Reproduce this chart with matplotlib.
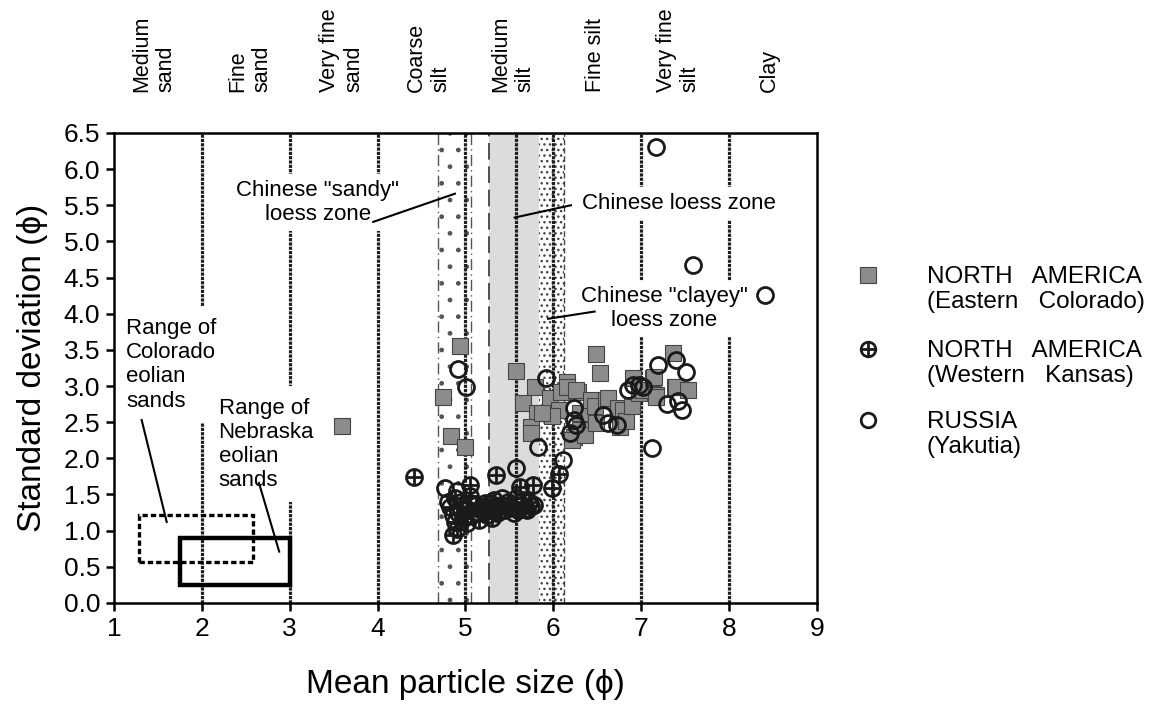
import matplotlib
matplotlib.use("Agg")
import matplotlib.pyplot as plt
from matplotlib.lines import Line2D
from matplotlib.patches import Rectangle
from matplotlib.ticker import FormatStrFormatter, MultipleLocator

plt.rcParams["font.family"] = ["Liberation Sans", "DejaVu Sans"]
plt.rcParams["hatch.linewidth"] = 1.0

# grain-size classes written above the plot (phi)
class_names = ["Medium\nsand", "Fine\nsand", "Very fine\nsand", "Coarse\nsilt",
               "Medium\nsilt", "Fine silt", "Very fine\nsilt", "Clay"]
class_pos = [1.45, 2.55, 3.59, 4.58, 5.54, 6.48, 7.42, 8.46]
class_bounds = [2, 3, 4, 5, 5.58, 6, 7, 8]

# Chinese loess zones (phi ranges)
sandy_zone = (4.69, 5.06)
loess_zone = (5.27, 5.835)
clayey_zone = (5.835, 6.12)

# eolian sand ranges: x0, x1, y0, y1
colorado_range = (1.28, 2.58, 0.56, 1.22)
nebraska_range = (1.75, 3.00, 0.25, 0.90)

# North America, Eastern Colorado
co_x = [3.60, 4.94, 4.75, 4.83, 4.99, 5.57, 5.79, 5.66, 5.81, 5.75, 5.75, 5.96,
        6.07, 6.15, 6.09, 6.16, 6.28, 6.26, 6.30, 6.24, 6.21, 6.36, 6.30, 5.98,
        5.87, 6.43, 6.47, 6.49, 6.53, 6.49, 6.60, 6.62, 6.74, 6.76, 6.79, 6.83,
        6.89, 6.91, 6.98, 7.02, 7.13, 7.17, 7.14, 7.36, 7.38, 7.40, 7.53, 7.17]
co_y = [2.45, 3.55, 2.85, 2.31, 2.16, 3.21, 2.99, 2.76, 2.62, 2.44, 2.35, 2.83,
        2.67, 3.06, 2.92, 2.98, 2.92, 2.95, 2.39, 2.30, 2.25, 2.32, 2.62, 2.58,
        2.62, 2.81, 2.72, 2.49, 3.18, 3.44, 2.81, 2.83, 2.69, 2.44, 2.67, 2.51,
        2.72, 3.11, 2.90, 2.95, 3.11, 2.88, 3.13, 3.45, 2.99, 2.99, 2.95, 2.85]

# North America, Western Kansas
ks_x = [4.42, 5.35, 5.05, 5.77, 5.98, 6.06, 5.62, 4.86, 4.88,
        4.82, 4.88, 4.92, 4.95, 4.98, 5.02, 5.05, 5.08, 5.12, 5.15, 5.18, 5.22,
        5.25, 5.30, 5.33, 5.36, 5.40, 5.45, 5.48, 5.52, 5.58, 5.60, 5.64, 5.68,
        5.72, 5.75, 5.30, 5.02, 4.90]
ks_y = [1.74, 1.77, 1.63, 1.63, 1.59, 1.79, 1.61, 0.94, 1.12,
        1.33, 1.45, 1.25, 1.40, 1.18, 1.30, 1.48, 1.22, 1.35, 1.15, 1.28, 1.38,
        1.22, 1.30, 1.42, 1.25, 1.35, 1.28, 1.40, 1.32, 1.45, 1.28, 1.36, 1.30,
        1.40, 1.34, 1.18, 1.10, 1.02]

# Russia, Yakutia
ru_x = [7.17, 7.59, 8.41, 7.12, 7.19, 7.40, 7.51, 7.29, 7.42, 7.46, 6.98, 5.92,
        6.91, 7.02, 6.85, 6.23, 6.24, 6.26, 6.19, 6.57, 6.62, 6.72, 6.11, 5.82,
        4.92, 5.01, 5.57, 4.77,
        4.86, 4.95, 5.05, 5.12, 5.20, 5.28, 5.35, 5.42, 5.50, 5.55, 5.65, 5.70,
        5.78, 4.80, 4.90]
ru_y = [6.31, 4.67, 4.26, 2.14, 3.29, 3.36, 3.20, 2.75, 2.79, 2.67, 3.02, 3.11,
        3.02, 2.99, 2.95, 2.69, 2.53, 2.46, 2.35, 2.60, 2.49, 2.46, 1.98, 2.16,
        3.24, 2.99, 1.86, 1.59,
        1.22, 1.30, 1.38, 1.25, 1.32, 1.38, 1.30, 1.45, 1.36, 1.25, 1.42, 1.28,
        1.35, 1.40, 1.55]

series_labels = ["NORTH   AMERICA\n(Eastern   Colorado)",
                 "NORTH   AMERICA\n(Western   Kansas)",
                 "RUSSIA\n(Yakutia)"]

ink = "#1a1a1a"
square_style = dict(ls="none", marker="s", ms=12, mfc="#8c8c8c", mec="#444444", mew=0.8)
circle_style = dict(ls="none", marker="o", ms=11.5, mfc="none", mec=ink, mew=2.0)
cross_style = dict(ls="none", marker="+", ms=11.5, mec=ink, mew=2.0)

fig, ax = plt.subplots(figsize=(11.56, 7.11), dpi=100)
fig.subplots_adjust(left=0.0986, right=0.7067, bottom=0.152, top=0.813)
ax.set_xlim(1, 9)
ax.set_ylim(0, 6.5)

# loess zones
ax.axvspan(*sandy_zone, facecolor="white", edgecolor="#555555", hatch=".", lw=0, zorder=1)
ax.axvspan(*loess_zone, facecolor="#dcdcdc", lw=0, zorder=1)
ax.axvspan(*clayey_zone, facecolor="white", edgecolor="#444444", hatch="...", lw=0, zorder=1)
for xz in sandy_zone:
    ax.axvline(xz, color="#555555", lw=1.0, ls=(0, (8, 3, 1, 3)), zorder=2)
ax.axvline(loess_zone[0], color="#333333", lw=1.2, ls=(0, (10, 4)), zorder=2)
ax.axvline(clayey_zone[1], color="#444444", lw=1.0, ls=(0, (4, 2)), zorder=2)

# class boundaries
for xb in class_bounds:
    ax.axvline(xb, color="#1f1f1f", lw=2.3, ls=(0, (1, 0.35)), zorder=2)

# eolian sand ranges
x0, x1, y0, y1 = colorado_range
ax.add_patch(Rectangle((x0, y0), x1 - x0, y1 - y0, fill=False, ec="black",
                       lw=2.4, ls=(0, (1.6, 0.9)), zorder=3))
x0, x1, y0, y1 = nebraska_range
ax.add_patch(Rectangle((x0, y0), x1 - x0, y1 - y0, fill=False, ec="black",
                       lw=3.2, zorder=3))

# annotations with leaders
notes = [
    ('Chinese "sandy"\nloess zone', 3.32, 5.85, "center", [(3.95, 5.27), (4.88, 5.66)]),
    ("Chinese loess zone", 6.33, 5.67, "left", [(6.20, 5.50), (5.56, 5.33)]),
    ('Chinese "clayey"\nloess zone', 7.26, 4.38, "center", [(6.47, 4.03), (5.94, 3.93)]),
    ("Range of\nColorado\neolian\nsands", 1.137, 3.94, "left", [(1.315, 2.53), (1.60, 1.12)]),
    ("Range of\nNebraska\neolian\nsands", 2.19, 2.84, "left", [(2.65, 1.66), (2.88, 0.71)]),
]
for text, tx, ty, ha, leader in notes:
    pad = 8 if text.startswith("Range") else 4
    ax.text(tx, ty, text, ha=ha, va="top", multialignment=ha, fontsize=16,
            zorder=5, bbox=dict(facecolor="white", edgecolor="none", pad=pad))
    (lx0, ly0), (lx1, ly1) = leader
    ax.plot([lx0, lx1], [ly0, ly1], color="black", lw=1.5, zorder=6)

# data
ax.plot(co_x, co_y, zorder=7, **square_style)
ax.plot(ks_x, ks_y, zorder=8, **circle_style)
ax.plot(ks_x, ks_y, zorder=8, **cross_style)
ax.plot(ru_x, ru_y, zorder=9, **circle_style)

# grain-size classes above the axes
for name, xp in zip(class_names, class_pos):
    ax.text(xp, 1.087, name, transform=ax.get_xaxis_transform(), rotation=90,
            ha="center", va="bottom", multialignment="left", fontsize=15.5)

# legend drawn beside the plot
legend_y = [0.698, 0.540, 0.389]
legend_styles = [[square_style], [circle_style, cross_style], [circle_style]]
for ly, styles, label in zip(legend_y, legend_styles, series_labels):
    for st in styles:
        ax.add_line(Line2D([1.073], [ly], transform=ax.transAxes, clip_on=False,
                           **{**st, "ms": st["ms"] - 1}))
    ax.text(1.156, ly + 0.019, label, transform=ax.transAxes, ha="left", va="top",
            fontsize=17.5, linespacing=1.15)

ax.xaxis.set_major_locator(MultipleLocator(1))
ax.yaxis.set_major_locator(MultipleLocator(0.5))
ax.yaxis.set_major_formatter(FormatStrFormatter("%.1f"))
ax.tick_params(direction="out", length=6, width=1.8, labelsize=19, pad=4)
for side in ["left", "bottom", "top", "right"]:
    ax.spines[side].set_linewidth(1.8)
    ax.spines[side].set_zorder(10)

ax.set_xlabel("Mean particle size (\u03d5)", fontsize=24)
ax.set_ylabel("Standard deviation (\u03d5)", fontsize=24)
ax.xaxis.set_label_coords(0.5, -0.14)
ax.yaxis.set_label_coords(-0.094, 0.5)

fig.savefig("out.png", dpi=100)
